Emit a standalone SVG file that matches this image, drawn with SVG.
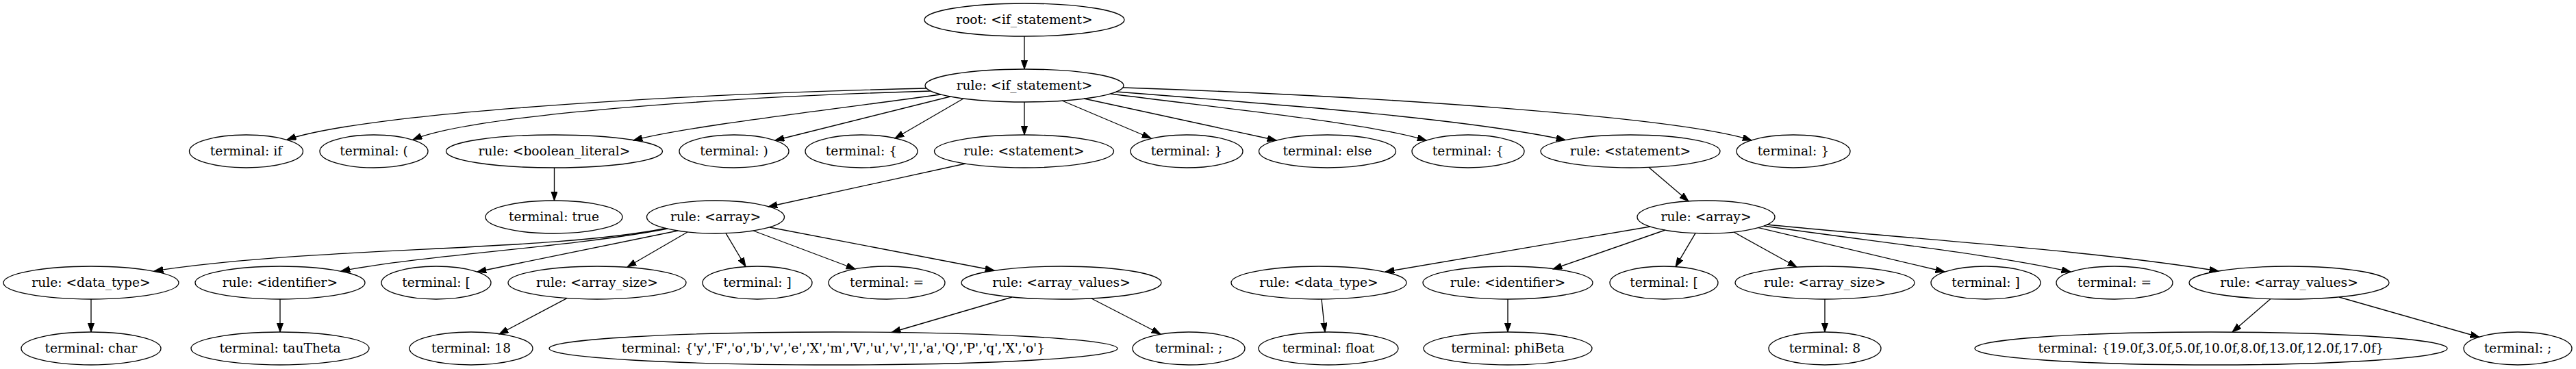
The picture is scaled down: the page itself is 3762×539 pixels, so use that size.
<svg xmlns="http://www.w3.org/2000/svg" width="3762" height="539" viewBox="0 0 3762 539">
<defs>
<style>
.n ellipse{fill:none;stroke:#000;stroke-width:1.33}
.n text{font-family:"DejaVu Serif",serif;font-size:18.67px;text-anchor:middle;fill:#000}
.e path{fill:none;stroke:#000;stroke-width:1.33;marker-end:url(#ah)}
</style>
<marker id="ah" markerUnits="userSpaceOnUse" markerWidth="14" markerHeight="10" refX="13.3" refY="4.67" orient="auto">
<path d="M0,0 L13.3,4.67 L0,9.33 Z" fill="#000" stroke="#000" stroke-width="1"/>
</marker>
</defs>
<rect x="0" y="0" width="3762" height="539" fill="#fff"/>
<g id="edges" class="e">
<path d="M1496,53 L1496,101"/>
<path d="M1353,129 C900,140 520,170 419,204"/>
<path d="M1359,133 C1050,142 690,168 603,204"/>
<path d="M1374,138 C1200,162 1000,185 925,205"/>
<path d="M1388,141 L1132,205"/>
<path d="M1407,144 L1307,202"/>
<path d="M1496,149 L1496,197"/>
<path d="M1551,147 L1681,202"/>
<path d="M1583,144 L1864,205"/>
<path d="M1622,137 C1800,160 2000,180 2083,205"/>
<path d="M1630,134 C1900,155 2150,175 2286,204.5"/>
<path d="M1640,128 C2000,140 2450,170 2558,205"/>
<path d="M809.5,245 L809.5,293"/>
<path d="M1410,239 L1122,302"/>
<path d="M2408,244.5 L2466,294"/>
<path d="M972,333.5 C800,368 450,360 225,396"/>
<path d="M975,334 C830,362 620,372 498,396"/>
<path d="M990,337 L697,397"/>
<path d="M1004,339 L916,390"/>
<path d="M1060,340.7 L1089,389.5"/>
<path d="M1100,337 L1249,393"/>
<path d="M1124,332 L1452,395"/>
<path d="M2410,331 L2023,397"/>
<path d="M2432,336 L2268,393"/>
<path d="M2476,340.7 L2447,389.6"/>
<path d="M2532,339 L2624,390"/>
<path d="M2568,332.6 L2840,397"/>
<path d="M2576,330 C2750,355 2900,370 3024,397"/>
<path d="M2580,328 C2800,350 3050,365 3240,396"/>
<path d="M133,437 L133,485"/>
<path d="M409,437 L409,485"/>
<path d="M828,435.6 L729,488"/>
<path d="M1478,434 L1302,485.5"/>
<path d="M1594,436 L1695,488"/>
<path d="M1930,437 L1935,485"/>
<path d="M2202,437 L2202,485"/>
<path d="M2665,437 L2665,485"/>
<path d="M3316,436.6 L3260,485"/>
<path d="M3416,434 L3621,492.5"/>
</g>
<g id="n0" class="n"><ellipse cx="1496" cy="29" rx="146" ry="24"/><text x="1496" y="35">root: &lt;if_statement&gt;</text></g>
<g id="n1" class="n"><ellipse cx="1496" cy="125" rx="145" ry="24"/><text x="1496" y="131">rule: &lt;if_statement&gt;</text></g>
<g id="n2" class="n"><ellipse cx="359.5" cy="221" rx="83" ry="24"/><text x="359.5" y="227">terminal: if</text></g>
<g id="n3" class="n"><ellipse cx="546" cy="221" rx="79" ry="24"/><text x="546" y="227">terminal: (</text></g>
<g id="n4" class="n"><ellipse cx="809.5" cy="221" rx="158" ry="24"/><text x="809.5" y="227">rule: &lt;boolean_literal&gt;</text></g>
<g id="n5" class="n"><ellipse cx="1072" cy="221" rx="80" ry="24"/><text x="1072" y="227">terminal: )</text></g>
<g id="n6" class="n"><ellipse cx="1258" cy="221" rx="82" ry="24"/><text x="1258" y="227">terminal: {</text></g>
<g id="n7" class="n"><ellipse cx="1495.5" cy="221" rx="131" ry="24"/><text x="1495.5" y="227">rule: &lt;statement&gt;</text></g>
<g id="n8" class="n"><ellipse cx="1733" cy="221" rx="82" ry="24"/><text x="1733" y="227">terminal: }</text></g>
<g id="n9" class="n"><ellipse cx="1938.5" cy="221" rx="100" ry="24"/><text x="1938.5" y="227">terminal: else</text></g>
<g id="n10" class="n"><ellipse cx="2144" cy="221" rx="82" ry="24"/><text x="2144" y="227">terminal: {</text></g>
<g id="n11" class="n"><ellipse cx="2381" cy="221" rx="131" ry="24"/><text x="2381" y="227">rule: &lt;statement&gt;</text></g>
<g id="n12" class="n"><ellipse cx="2619" cy="221" rx="83" ry="24"/><text x="2619" y="227">terminal: }</text></g>
<g id="n13" class="n"><ellipse cx="809" cy="317" rx="100" ry="24"/><text x="809" y="323">terminal: true</text></g>
<g id="n14" class="n"><ellipse cx="1045" cy="317" rx="100.5" ry="24"/><text x="1045" y="323">rule: &lt;array&gt;</text></g>
<g id="n15" class="n"><ellipse cx="2491.5" cy="317" rx="100.5" ry="24"/><text x="2491.5" y="323">rule: &lt;array&gt;</text></g>
<g id="n16" class="n"><ellipse cx="133" cy="413" rx="128" ry="24"/><text x="133" y="419">rule: &lt;data_type&gt;</text></g>
<g id="n17" class="n"><ellipse cx="409" cy="413" rx="124" ry="24"/><text x="409" y="419">rule: &lt;identifier&gt;</text></g>
<g id="n18" class="n"><ellipse cx="637" cy="413" rx="80" ry="24"/><text x="637" y="419">terminal: [</text></g>
<g id="n19" class="n"><ellipse cx="872" cy="413" rx="130" ry="24"/><text x="872" y="419">rule: &lt;array_size&gt;</text></g>
<g id="n20" class="n"><ellipse cx="1106" cy="413" rx="80" ry="24"/><text x="1106" y="419">terminal: ]</text></g>
<g id="n21" class="n"><ellipse cx="1295" cy="413" rx="85" ry="24"/><text x="1295" y="419">terminal: =</text></g>
<g id="n22" class="n"><ellipse cx="1550" cy="413" rx="146" ry="24"/><text x="1550" y="419">rule: &lt;array_values&gt;</text></g>
<g id="n23" class="n"><ellipse cx="1926" cy="413" rx="128" ry="24"/><text x="1926" y="419">rule: &lt;data_type&gt;</text></g>
<g id="n24" class="n"><ellipse cx="2202" cy="413" rx="124" ry="24"/><text x="2202" y="419">rule: &lt;identifier&gt;</text></g>
<g id="n25" class="n"><ellipse cx="2430" cy="413" rx="79" ry="24"/><text x="2430" y="419">terminal: [</text></g>
<g id="n26" class="n"><ellipse cx="2665" cy="413" rx="131" ry="24"/><text x="2665" y="419">rule: &lt;array_size&gt;</text></g>
<g id="n27" class="n"><ellipse cx="2900" cy="413" rx="80" ry="24"/><text x="2900" y="419">terminal: ]</text></g>
<g id="n28" class="n"><ellipse cx="3088" cy="413" rx="85" ry="24"/><text x="3088" y="419">terminal: =</text></g>
<g id="n29" class="n"><ellipse cx="3343" cy="413" rx="146" ry="24"/><text x="3343" y="419">rule: &lt;array_values&gt;</text></g>
<g id="n30" class="n"><ellipse cx="133" cy="509" rx="102" ry="24"/><text x="133" y="515">terminal: char</text></g>
<g id="n31" class="n"><ellipse cx="409" cy="509" rx="130" ry="24"/><text x="409" y="515">terminal: tauTheta</text></g>
<g id="n32" class="n"><ellipse cx="688" cy="509" rx="90" ry="24"/><text x="688" y="515">terminal: 18</text></g>
<g id="n33" class="n"><ellipse cx="1217" cy="509" rx="415" ry="24"/><text x="1217" y="515">terminal: {'y','F','o','b','v','e','X','m','V','u','v','l','a','Q','P','q','X','o'}</text></g>
<g id="n34" class="n"><ellipse cx="1736" cy="509" rx="82" ry="24"/><text x="1736" y="515">terminal: ;</text></g>
<g id="n35" class="n"><ellipse cx="1940" cy="509" rx="102" ry="24"/><text x="1940" y="515">terminal: float</text></g>
<g id="n36" class="n"><ellipse cx="2202" cy="509" rx="123" ry="24"/><text x="2202" y="515">terminal: phiBeta</text></g>
<g id="n37" class="n"><ellipse cx="2665" cy="509" rx="82" ry="24"/><text x="2665" y="515">terminal: 8</text></g>
<g id="n38" class="n"><ellipse cx="3229" cy="509" rx="345" ry="24"/><text x="3229" y="515">terminal: {19.0f,3.0f,5.0f,10.0f,8.0f,13.0f,12.0f,17.0f}</text></g>
<g id="n39" class="n"><ellipse cx="3677" cy="509" rx="79" ry="24"/><text x="3677" y="515">terminal: ;</text></g>
</svg>
